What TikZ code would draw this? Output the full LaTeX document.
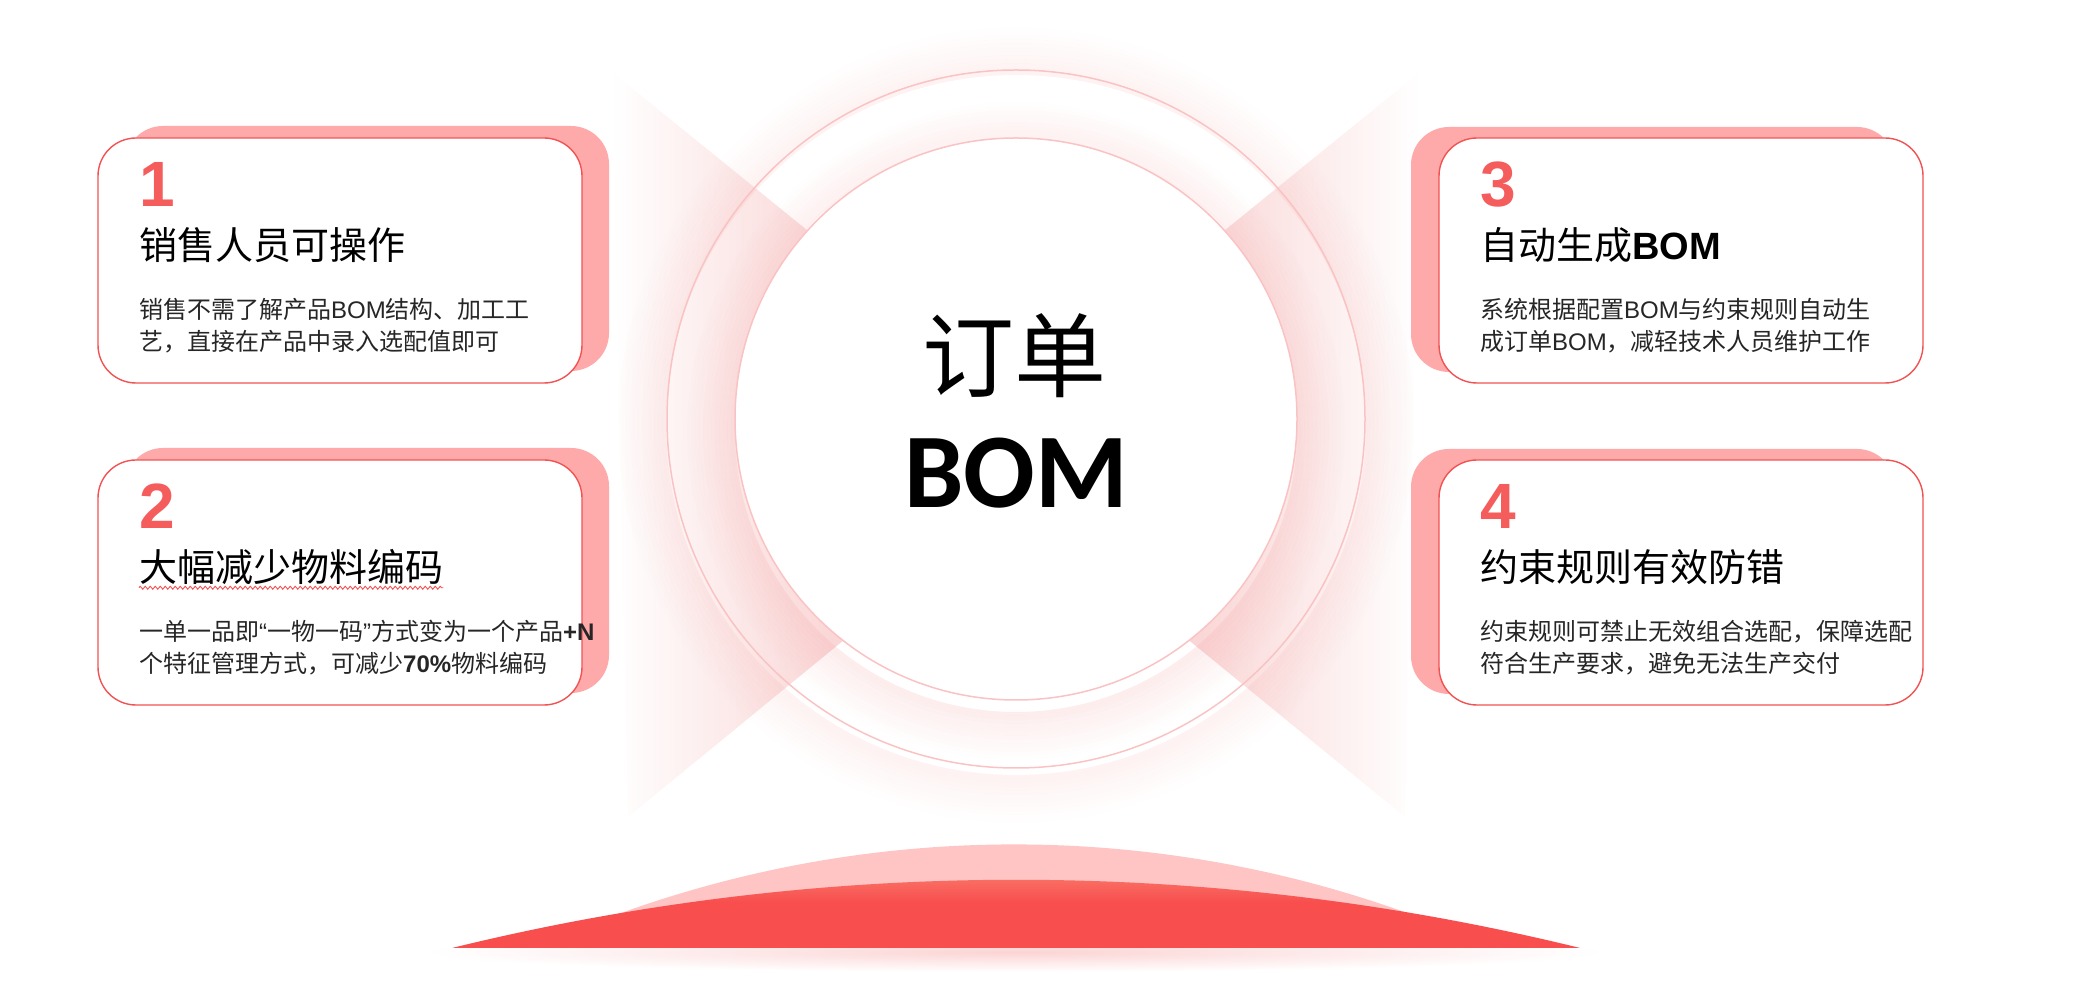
\documentclass[tikz,border=0pt]{standalone}
\usepackage{fontspec}
\setmainfont{Noto Sans CJK SC}
\newfontfamily\latinfont{Liberation Sans}
\newfontfamily\bomfont{Carlito}
\usepackage{tikz}
\definecolor{myr}{RGB}{242, 82, 82}
\definecolor{myshadow}{RGB}{255, 170, 170}
\definecolor{mynum}{RGB}{245, 92, 92}
\definecolor{myfan}{RGB}{245, 170, 170}
\definecolor{myring}{RGB}{250, 195, 195}
\definecolor{myglow}{RGB}{245, 165, 165}
\definecolor{mydome}{RGB}{255, 196, 196}
\definecolor{mydomered}{RGB}{248, 78, 78}
\definecolor{mydometop}{RGB}{250, 140, 120}
\definecolor{mytext}{RGB}{38, 38, 38}
\usetikzlibrary{calc,positioning,decorations.pathmorphing}

\begin{document}
\begin{tikzpicture}[x=1pt,y=1pt]
	\tikzset{
		cardbox/.style={draw=myr, line width=1.4pt, fill=white, rounded corners=38pt,
			minimum width=484pt, minimum height=245pt, inner sep=0pt, outer sep=0pt},
		cardshadow/.style={fill=myshadow, rounded corners=38pt,
			minimum width=484pt, minimum height=245pt, inner sep=0pt, outer sep=0pt},
		numtext/.style={anchor=north west, inner sep=0pt, text=mynum,
			font=\fontsize{64}{64}\latinfont\bfseries},
		titletext/.style={anchor=north west, inner sep=0pt, text=black,
			font=\fontsize{38}{44}\selectfont},
		bodytext/.style={anchor=north west, inner sep=0pt, align=left, text=mytext,
			font=\fontsize{24}{32}\selectfont},
		glowring/.style={myglow, line width=4pt}
	}
	\useasboundingbox (0,0) rectangle (2078,996);
	% hills at the bottom
	\shade[inner color=myr!25, outer color=white] (1015,44) ellipse[x radius=590, y radius=20];
	\fill[mydome] (535,48) arc[start angle=114.4, end angle=65.6, radius=1160] -- cycle;
	\shade[top color=mydometop, bottom color=mydomered, middle color=mydomered]
		(452,48) arc[start angle=103.8, end angle=76.2, radius=2365] -- cycle;
	% fans
	\shade[left color=white, right color=myfan] (612,924) -- (1077,547) -- (628,179) -- cycle;
	\shade[left color=myfan, right color=white] (1420,924) -- (955,547) -- (1405,179) -- cycle;
	% rings
	\coordinate (o) at (1016,577);
	\foreach \k [evaluate=\k as \op using {0.14*(1-\k/12)}] in {0,...,11}
		\draw[glowring, opacity=\op] ($(o)+(0,-6)$) circle[radius=352+4*\k];
	\draw[myring, line width=1.5pt] (o) circle[radius=349];
	\foreach \k [evaluate=\k as \op using {0.2*(1-\k/12)}] in {0,...,11}
		\draw[glowring, opacity=\op] ($(o)+(0,-12)$) circle[radius=283+4*\k];
	\node[circle, fill=white, draw=myring, line width=1.5pt, minimum size=562pt, inner sep=0pt] (core) at (o) {};
	\node[font=\fontsize{92}{92}\selectfont] (ordertxt) at (1014,640) {订单};
	\node[font=\fontsize{106}{106}\bomfont\bfseries] (bomtxt) at (1016,523) {BOM};

	% cards
	\node[cardshadow] (s1) at (367,747.5) {};
	\node[cardbox] (c1) at (340,735.5) {};
	\node[cardshadow] (s2) at (367,425.5) {};
	\node[cardbox] (c2) at (340,413.5) {};
	\node[cardshadow] (s3) at (1653,746.5) {};
	\node[cardbox] (c3) at (1681,735.5) {};
	\node[cardshadow] (s4) at (1653,424.5) {};
	\node[cardbox] (c4) at (1681,413.5) {};

	\node[numtext] (n1) at ([xshift=41pt, yshift=-24pt]c1.north west) {1};
	\node[titletext] (t1) at ([xshift=41pt, yshift=-89pt]c1.north west) {销售人员可操作};
	\node[bodytext] (b1) at ([xshift=41pt, yshift=-160pt]c1.north west)
		{销售不需了解产品{\latinfont BOM}结构、加工工\\艺，直接在产品中录入选配值即可};

	\node[numtext] (n2) at ([xshift=41pt, yshift=-24pt]c2.north west) {2};
	\node[titletext] (t2) at ([xshift=41pt, yshift=-89pt]c2.north west) {大幅减少物料编码};
	\draw[myr, line width=0.9pt, decorate, decoration={zigzag, segment length=5pt, amplitude=1.5pt}]
		([yshift=-3pt]t2.south west) -- ([yshift=-3pt]t2.south east);
	\node[bodytext] (b2) at ([xshift=41pt, yshift=-160pt]c2.north west)
		{一单一品即{\latinfont “}一物一码{\latinfont ”}方式变为一个产品{\latinfont\bfseries +N}\\个特征管理方式，可减少{\latinfont\bfseries 70\%}物料编码};

	\node[numtext] (n3) at ([xshift=41pt, yshift=-24pt]c3.north west) {3};
	\node[titletext] (t3) at ([xshift=41pt, yshift=-89pt]c3.north west) {自动生成{\latinfont\bfseries BOM}};
	\node[bodytext] (b3) at ([xshift=41pt, yshift=-160pt]c3.north west)
		{系统根据配置{\latinfont BOM}与约束规则自动生\\成订单{\latinfont BOM}，减轻技术人员维护工作};

	\node[numtext] (n4) at ([xshift=41pt, yshift=-24pt]c4.north west) {4};
	\node[titletext] (t4) at ([xshift=41pt, yshift=-89pt]c4.north west) {约束规则有效防错};
	\node[bodytext] (b4) at ([xshift=41pt, yshift=-160pt]c4.north west)
		{约束规则可禁止无效组合选配，保障选配\\符合生产要求，避免无法生产交付};
\end{tikzpicture}
\end{document}
